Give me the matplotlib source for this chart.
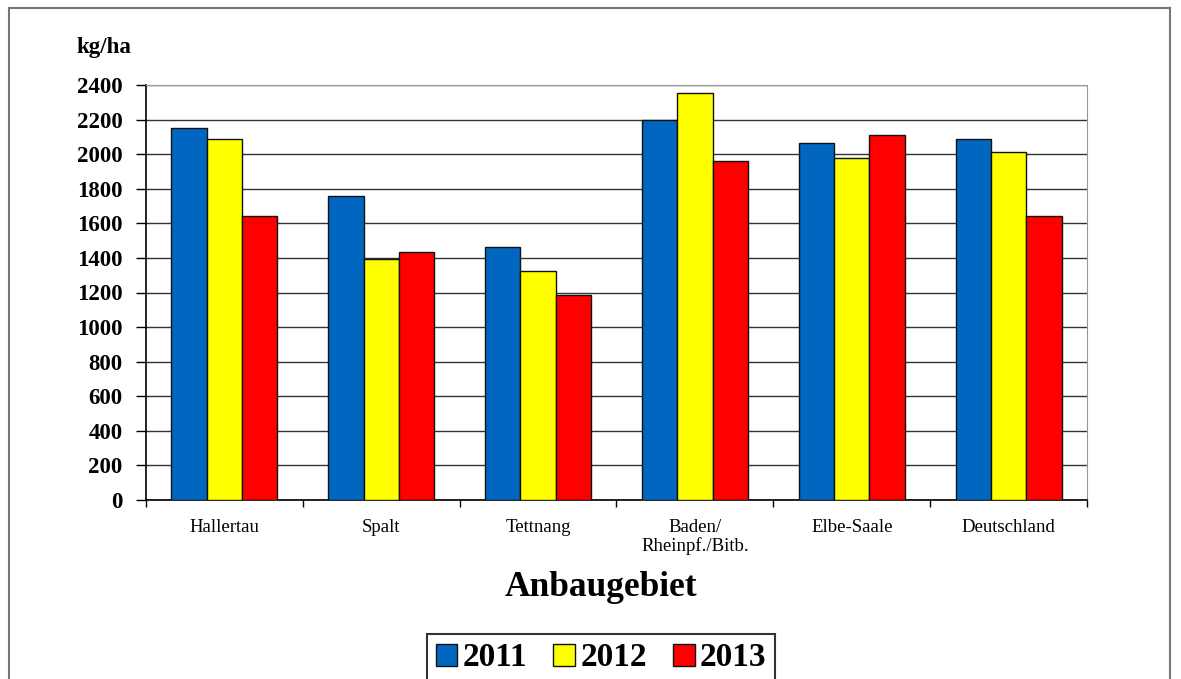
import matplotlib.pyplot as plt
import numpy as np
from matplotlib.lines import Line2D

# data (kg/ha)
regions = ['Hallertau', 'Spalt', 'Tettnang', 'Baden/\nRheinpf./Bitb.', 'Elbe-Saale', 'Deutschland']
years = ['2011', '2012', '2013']
y2011 = [2153, 1760, 1463, 2198, 2067, 2088]
y2012 = [2090, 1394, 1325, 2352, 1976, 2015]
y2013 = [1641, 1433, 1186, 1961, 2109, 1641]
colors = ['#0066C0', '#FFFF00', '#FF0000']

plt.rcParams['font.family'] = ['Liberation Serif', 'DejaVu Serif']

fig = plt.figure(figsize=(11.81, 6.79), dpi=100)
ax = fig.add_axes([146/1181, 1-500/679, (1087-146)/1181, 415/679])

x = np.arange(len(regions))
w = 0.225
for i, vals in enumerate([y2011, y2012, y2013]):
  ax.bar(x + (i-1)*w, vals, w, color=colors[i], edgecolor='#111111', linewidth=1.0,
         label=years[i], zorder=3)

ax.set_xlim(-0.5, len(regions)-0.5)
ax.set_ylim(0, 2400)
ax.set_yticks(np.arange(0, 2401, 200))
ax.yaxis.grid(True, color='#333333', linewidth=1.0, zorder=0)
ax.set_axisbelow(True)

ax.set_xticks(x)
ax.set_xticklabels(regions, fontsize=13.5, linespacing=1.05)
ax.set_xticks(np.arange(-0.5, len(regions), 1.0), minor=True)
ax.tick_params(axis='x', which='major', length=0, pad=14)
ax.tick_params(axis='x', which='minor', length=5, width=1, direction='out')
ax.tick_params(axis='y', length=7, width=1, direction='out', pad=10)
for lab in ax.get_yticklabels():
  lab.set_fontsize(16.5)
  lab.set_fontweight('bold')

for s in ['top', 'right']:
  ax.spines[s].set_color('#999999')
ax.spines['left'].set_color('black')
ax.spines['bottom'].set_color('black')
ax.spines['left'].set_linewidth(1.2)
ax.spines['bottom'].set_linewidth(1.2)

fig.text(104/1181, 1-48/679, 'kg/ha', fontsize=16.5, fontweight='bold', ha='center', va='center')
fig.text(601/1181, 1-588/679, 'Anbaugebiet', fontsize=25.5, fontweight='bold', ha='center', va='center')

leg = fig.legend(loc='center', bbox_to_anchor=(601/1181, 1-658/679), ncol=3,
                 prop={'size': 24, 'weight': 'bold'}, frameon=True, fancybox=False,
                 handlelength=0.65, handleheight=0.65, handletextpad=0.15,
                 columnspacing=0.8, borderpad=0.25, edgecolor='black')
leg.get_frame().set_linewidth(1.5)

# outer border of the picture
for xs, ys in [([9/1181, 9/1181], [0, 1-8/679]),
               ([9/1181, 1170/1181], [1-8/679, 1-8/679]),
               ([1170/1181, 1170/1181], [1-8/679, 0])]:
  fig.add_artist(Line2D(xs, ys, color='#777777', linewidth=1.5, transform=fig.transFigure))

plt.savefig('out.png', dpi=100)
plt.close()
